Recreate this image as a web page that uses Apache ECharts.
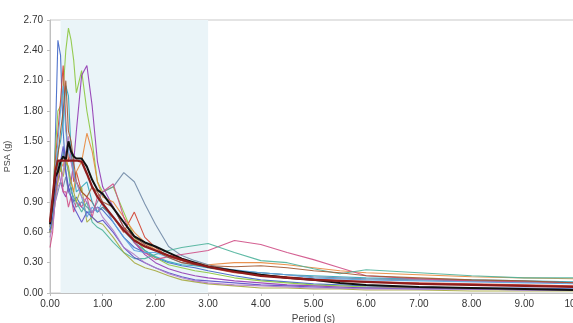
<!DOCTYPE html>
<html>
<head>
<meta charset="utf-8">
<script src="https://cdn.jsdelivr.net/npm/echarts@6/dist/echarts.min.js"></script>
<style>
  html, body { margin: 0; padding: 0; background: #fff; }
  #chart { width: 573px; height: 323px; }
</style>
</head>
<body>
<div id="chart"></div>
<script>
// periods (s) shared by every spectrum
const periods = [0, 0.05, 0.1, 0.15, 0.2, 0.25, 0.3, 0.35, 0.4, 0.45, 0.5, 0.6, 0.7, 0.8, 0.9, 1.0,
  1.2, 1.4, 1.6, 1.8, 2.0, 2.25, 2.5, 2.75, 3.0, 3.5, 4.0, 4.5, 5.0, 5.5, 6.0, 7.0, 8.0, 9.0, 10.0]

// period range used for matching (shaded band)
const bandRange = [0.2, 3.0]

const target = [0.70, 0.95, 1.20, 1.31, 1.31, 1.31, 1.31, 1.31, 1.31, 1.31, 1.31, 1.30, 1.18, 1.05, 0.95, 0.88,
  0.75, 0.62, 0.52, 0.46, 0.42, 0.37, 0.33, 0.29, 0.26, 0.21, 0.17, 0.15, 0.13, 0.12, 0.11, 0.09, 0.08, 0.07, 0.06]
const mean = [0.68, 0.90, 1.15, 1.20, 1.30, 1.35, 1.32, 1.50, 1.40, 1.35, 1.33, 1.33, 1.25, 1.12, 1.02, 0.98,
  0.84, 0.70, 0.56, 0.50, 0.46, 0.40, 0.34, 0.30, 0.26, 0.22, 0.18, 0.15, 0.13, 0.10, 0.08, 0.06, 0.05, 0.04, 0.03]

const recBlue = [0.62, 0.70, 1.50, 2.50, 2.35, 1.60, 1.20, 1.00, 1.05, 0.90, 0.95, 0.85, 0.80, 0.80, 0.85, 0.82,
  0.70, 0.55, 0.45, 0.40, 0.35, 0.30, 0.27, 0.25, 0.22, 0.17, 0.13, 0.11, 0.09, 0.08, 0.07, 0.06, 0.05, 0.05, 0.04]
const recLime = [0.65, 0.90, 1.40, 1.80, 1.85, 2.00, 2.40, 2.62, 2.50, 2.30, 1.98, 2.20, 1.80, 1.50, 1.10, 1.00,
  1.05, 0.80, 0.55, 0.42, 0.35, 0.28, 0.25, 0.22, 0.20, 0.15, 0.12, 0.10, 0.08, 0.07, 0.06, 0.05, 0.04, 0.04, 0.03]
const recPurple = [0.60, 0.80, 1.10, 1.25, 1.10, 1.00, 0.95, 1.05, 1.10, 1.30, 1.60, 2.15, 2.25, 1.85, 1.30, 1.05,
  0.85, 0.65, 0.50, 0.38, 0.30, 0.24, 0.20, 0.17, 0.15, 0.12, 0.10, 0.08, 0.07, 0.06, 0.05, 0.05, 0.04, 0.04, 0.03]
const recRed = [0.65, 0.85, 1.30, 1.60, 1.90, 2.25, 1.70, 1.30, 1.40, 1.10, 1.20, 1.00, 0.95, 0.90, 0.80, 0.85,
  0.75, 0.60, 0.80, 0.55, 0.45, 0.36, 0.32, 0.28, 0.25, 0.20, 0.18, 0.16, 0.14, 0.12, 0.11, 0.10, 0.09, 0.08, 0.07]
const recTeal = [0.62, 0.80, 1.20, 1.40, 1.50, 1.70, 2.05, 1.95, 1.40, 1.20, 1.00, 1.05, 1.10, 0.90, 0.80, 0.85,
  0.75, 0.62, 0.50, 0.42, 0.36, 0.31, 0.28, 0.27, 0.25, 0.22, 0.20, 0.18, 0.17, 0.16, 0.15, 0.14, 0.13, 0.12, 0.11]
const recOrange = [0.60, 0.75, 1.00, 1.20, 1.30, 1.25, 1.40, 1.20, 1.10, 1.00, 1.20, 1.30, 1.58, 1.40, 1.10, 0.95,
  0.90, 0.75, 0.60, 0.50, 0.43, 0.37, 0.33, 0.30, 0.28, 0.30, 0.30, 0.28, 0.25, 0.22, 0.20, 0.18, 0.16, 0.15, 0.14]
const recSlate = [0.60, 0.70, 0.90, 1.00, 1.10, 1.05, 1.15, 1.00, 0.95, 0.90, 0.85, 0.90, 0.85, 0.80, 0.90, 1.00,
  1.05, 1.19, 1.10, 0.88, 0.68, 0.46, 0.37, 0.32, 0.28, 0.22, 0.20, 0.18, 0.16, 0.15, 0.14, 0.13, 0.12, 0.11, 0.10]
const recPink = [0.45, 0.60, 0.95, 1.10, 1.30, 1.00, 1.00, 0.85, 0.95, 0.80, 0.90, 0.85, 0.95, 0.75, 0.95, 1.00,
  1.08, 0.75, 0.50, 0.40, 0.33, 0.36, 0.38, 0.40, 0.42, 0.52, 0.48, 0.40, 0.33, 0.25, 0.17, 0.14, 0.12, 0.11, 0.10]
const recSea = [0.60, 0.75, 1.10, 1.30, 1.20, 1.40, 1.30, 1.20, 1.00, 0.95, 0.90, 0.80, 0.90, 0.70, 0.65, 0.62,
  0.50, 0.40, 0.34, 0.34, 0.38, 0.42, 0.45, 0.47, 0.49, 0.40, 0.32, 0.30, 0.24, 0.19, 0.23, 0.20, 0.17, 0.15, 0.15]
const recOlive = [0.60, 0.70, 0.95, 1.10, 1.25, 1.15, 1.30, 1.25, 1.10, 1.00, 0.90, 1.05, 0.70, 0.75, 0.70, 0.68,
  0.55, 0.40, 0.30, 0.25, 0.22, 0.17, 0.13, 0.11, 0.09, 0.07, 0.05, 0.05, 0.04, 0.04, 0.03, 0.03, 0.02, 0.02, 0.02]
const recIndigo = [0.62, 0.75, 1.00, 1.20, 1.30, 1.45, 1.20, 1.05, 0.95, 0.85, 0.80, 0.70, 0.80, 0.75, 0.70, 0.72,
  0.60, 0.45, 0.35, 0.30, 0.25, 0.20, 0.16, 0.13, 0.12, 0.10, 0.08, 0.07, 0.06, 0.05, 0.05, 0.04, 0.04, 0.03, 0.03]
const recSky = [0.65, 0.80, 1.20, 1.50, 1.80, 2.05, 1.60, 1.40, 1.30, 1.20, 1.10, 0.95, 0.75, 0.85, 0.80, 0.90,
  0.70, 0.55, 0.42, 0.40, 0.40, 0.35, 0.30, 0.28, 0.26, 0.23, 0.20, 0.18, 0.15, 0.14, 0.13, 0.12, 0.11, 0.10, 0.09]
const recBrown = [0.70, 0.85, 1.20, 1.35, 1.60, 1.80, 2.10, 1.60, 1.50, 1.30, 1.10, 1.00, 0.95, 1.05, 1.00, 0.90,
  0.85, 0.65, 0.55, 0.48, 0.42, 0.35, 0.30, 0.28, 0.27, 0.26, 0.27, 0.25, 0.22, 0.20, 0.17, 0.15, 0.13, 0.12, 0.10]
const recViolet = [0.55, 0.65, 0.90, 1.05, 1.10, 1.20, 1.40, 1.55, 1.30, 1.15, 1.10, 0.95, 0.90, 0.80, 0.85, 0.75,
  0.62, 0.45, 0.38, 0.30, 0.25, 0.19, 0.15, 0.12, 0.10, 0.08, 0.07, 0.06, 0.05, 0.05, 0.04, 0.04, 0.04, 0.03, 0.03]

const records = [
  { name: "Record 1", data: recBlue, color: "#3f66c6" },
  { name: "Record 2", data: recLime, color: "#8cc63f" },
  { name: "Record 3", data: recPurple, color: "#9137b3" },
  { name: "Record 4", data: recRed, color: "#d2402f" },
  { name: "Record 5", data: recTeal, color: "#2fa5bb" },
  { name: "Record 6", data: recOrange, color: "#e8873c" },
  { name: "Record 7", data: recSlate, color: "#7088a6" },
  { name: "Record 8", data: recPink, color: "#cf4f86" },
  { name: "Record 9", data: recSea, color: "#4eb39b" },
  { name: "Record 10", data: recOlive, color: "#a6a83e" },
  { name: "Record 11", data: recIndigo, color: "#5a4ec8" },
  { name: "Record 12", data: recSky, color: "#5aa2de" },
  { name: "Record 13", data: recBrown, color: "#a0562f" },
  { name: "Record 14", data: recViolet, color: "#b07bc7" },
]

const pairs = (vals) => periods.map((p, i) => [p, vals[i]])

const chart = echarts.init(document.getElementById("chart"))

const series = records.map((r, i) => ({
  name: r.name,
  type: "line",
  data: pairs(r.data),
  showSymbol: false,
  lineStyle: { width: 1.1, color: r.color, opacity: 0.9 },
  itemStyle: { color: r.color },
  z: 3,
  animation: false,
  markArea: i === 0 ? {
    silent: true,
    itemStyle: { color: "#eaf4f8" },
    data: [[{ xAxis: bandRange[0] }, { xAxis: bandRange[1] }]],
  } : undefined,
}))

series.push({
  name: "Mean",
  type: "line",
  data: pairs(mean),
  showSymbol: false,
  lineStyle: { width: 2, color: "#111" },
  z: 5,
  animation: false,
})
series.push({
  name: "Target",
  type: "line",
  data: pairs(target),
  showSymbol: false,
  lineStyle: { width: 2.2, color: "#8e1c1c" },
  z: 6,
  animation: false,
})

const option = {
  backgroundColor: "#fff",
  animation: false,
  grid: {
    left: 50,
    top: 20,
    bottom: 30,
    right: -4,
    outerBoundsMode: "none",
    show: true,
    borderColor: "#c9c9c9",
    borderWidth: 1,
  },
  xAxis: {
    type: "value",
    min: 0,
    max: 10,
    interval: 1,
    name: "Period (s)",
    nameLocation: "middle",
    nameGap: 19,
    nameTextStyle: { color: "#444", fontSize: 10, fontFamily: "Liberation Sans" },
    axisLine: { lineStyle: { color: "#c0c0c0" } },
    axisTick: { show: true, length: 3, lineStyle: { color: "#c0c0c0" } },
    axisLabel: {
      color: "#333",
      fontSize: 10,
      fontFamily: "Liberation Sans",
      margin: 6,
      formatter: (v) => v.toFixed(2),
    },
    splitLine: { show: false },
  },
  yAxis: {
    type: "value",
    min: 0,
    max: 2.7,
    interval: 0.3,
    name: "PSA (g)",
    nameLocation: "middle",
    nameGap: 38,
    nameTextStyle: { color: "#444", fontSize: 9, fontFamily: "Liberation Sans" },
    axisLine: { show: true, lineStyle: { color: "#c0c0c0" } },
    axisTick: { show: true, length: 3, lineStyle: { color: "#c0c0c0" } },
    axisLabel: {
      color: "#333",
      fontSize: 10,
      fontFamily: "Liberation Sans",
      margin: 7,
      formatter: (v) => v.toFixed(2),
    },
    splitLine: { show: false },
  },
  series: series,
}

chart.setOption(option)
</script>
</body>
</html>
